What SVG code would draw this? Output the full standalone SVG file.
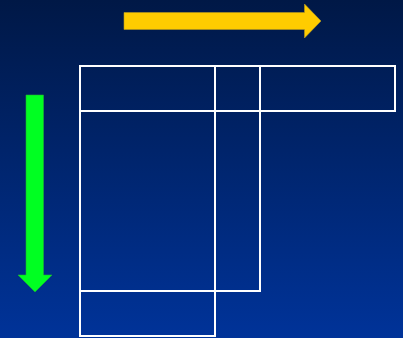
<svg xmlns="http://www.w3.org/2000/svg" width="403" height="338" viewBox="0 0 403 338">
<defs>
<linearGradient id="bg" x1="0" y1="0" x2="0" y2="1">
<stop offset="0" stop-color="#001846"/>
<stop offset="1" stop-color="#003399"/>
</linearGradient>
<style>
.ln{fill:none;stroke:#ffffff;stroke-width:2;stroke-linejoin:miter;stroke-linecap:square}
</style>
</defs>
<rect x="0" y="0" width="403" height="338" fill="url(#bg)"/>
<g id="arrow-right">
<polygon points="124,12.5 304.5,12.5 304.5,4 321,21 304.5,38 304.5,29.5 124,29.5" fill="#ffcc00" stroke="#b89a20" stroke-width="0.6"/>
</g>
<g id="arrow-down">
<polygon points="26,95 43.5,95 43.5,275 52,275 35,292 18,275 26,275" fill="#00ff22" stroke="#22b030" stroke-width="0.6"/>
</g>
<g id="grid">
<rect class="ln" x="80" y="66" width="315" height="45"/>
<path class="ln" d="M80,111 V336 H215 V66"/>
<path class="ln" d="M260,66 V291 H80"/>
</g>
</svg>
